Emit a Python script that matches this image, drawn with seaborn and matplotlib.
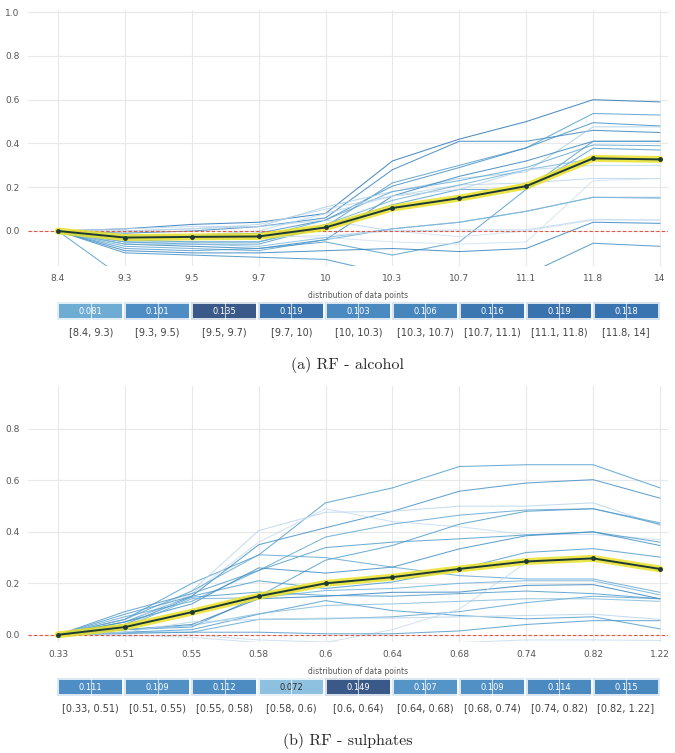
import numpy as np
import pandas as pd
import matplotlib
matplotlib.use("Agg")
import matplotlib.pyplot as plt
import seaborn as sns

# ---------- data: (a) RF - alcohol ----------
alcohol_ticks = ["8.4", "9.3", "9.5", "9.7", "10", "10.3", "10.7", "11.1", "11.8", "14"]
alcohol_bins = ["[8.4, 9.3)", "[9.3, 9.5)", "[9.5, 9.7)", "[9.7, 10)", "[10, 10.3)",
                "[10.3, 10.7)", "[10.7, 11.1)", "[11.1, 11.8)", "[11.8, 14]"]
alcohol_dist = [0.081, 0.101, 0.135, 0.119, 0.103, 0.106, 0.116, 0.119, 0.118]
alcohol_pdp = [0.0, -0.03, -0.027, -0.025, 0.016, 0.105, 0.15, 0.205, 0.332, 0.327]
alcohol_ice = [
    [0, 0.01, 0.03, 0.04, 0.08, 0.32, 0.42, 0.50, 0.60, 0.59],
    [0, -0.01, 0.0, 0.02, 0.06, 0.28, 0.41, 0.41, 0.46, 0.45],
    [0, -0.05, -0.06, -0.06, 0.02, 0.22, 0.30, 0.38, 0.537, 0.53],
    [0, -0.02, -0.02, -0.01, 0.05, 0.205, 0.29, 0.38, 0.495, 0.48],
    [0, 0.0, 0.01, 0.02, 0.11, 0.18, 0.24, 0.27, 0.476, 0.476],
    [0, -0.06, -0.07, -0.08, -0.04, 0.16, 0.25, 0.32, 0.41, 0.41],
    [0, -0.03, -0.03, -0.03, 0.05, 0.18, 0.23, 0.29, 0.393, 0.39],
    [0, -0.04, -0.05, -0.05, 0.02, 0.12, 0.19, 0.19, 0.378, 0.37],
    [0, -0.02, -0.02, 0.0, 0.08, 0.16, 0.21, 0.22, 0.24, 0.24],
    [0, -0.07, -0.08, -0.09, -0.04, 0.01, 0.04, 0.09, 0.154, 0.15],
    [0, -0.08, -0.09, -0.08, -0.05, -0.11, -0.05, 0.19, 0.41, 0.41],
    [0, -0.03, -0.03, -0.02, -0.03, -0.05, -0.06, -0.05, 0.23, 0.24],
    [0, 0.01, 0.02, 0.02, 0.05, 0.0, 0.005, 0.005, 0.053, 0.05],
    [0, -0.09, -0.1, -0.1, -0.09, -0.08, -0.094, -0.08, 0.04, 0.035],
    [0, -0.06, -0.06, -0.07, -0.03, 0.01, 0.04, 0.09, 0.154, 0.154],
    [0, -0.22, -0.25, -0.25, -0.25, -0.3, -0.3, -0.3, -0.3, -0.3],
    [0, -0.1, -0.11, -0.12, -0.13, -0.2, -0.22, -0.2, -0.056, -0.07],
    [0, -0.05, -0.05, -0.05, 0.03, 0.14, 0.21, 0.28, 0.33, 0.33],
    [0, 0.0, 0.01, 0.03, 0.1, 0.16, 0.19, 0.28, 0.3, 0.3],
    [0, -0.03, -0.04, -0.03, -0.02, 0.0, -0.026, 0.0, 0.05, 0.05],
]
alcohol_shade = [0.75, 0.7, 0.6, 0.65, 0.35, 0.7, 0.55, 0.6, 0.3, 0.55,
                 0.6, 0.2, 0.3, 0.7, 0.45, 0.6, 0.65, 0.5, 0.3, 0.2]

# ---------- data: (b) RF - sulphates ----------
sulph_ticks = ["0.33", "0.51", "0.55", "0.58", "0.6", "0.64", "0.68", "0.74", "0.82", "1.22"]
sulph_bins = ["[0.33, 0.51)", "[0.51, 0.55)", "[0.55, 0.58)", "[0.58, 0.6)", "[0.6, 0.64)",
              "[0.64, 0.68)", "[0.68, 0.74)", "[0.74, 0.82)", "[0.82, 1.22]"]
sulph_dist = [0.111, 0.109, 0.112, 0.072, 0.149, 0.107, 0.109, 0.114, 0.115]
sulph_pdp = [0.0, 0.03, 0.088, 0.15, 0.2, 0.224, 0.256, 0.285, 0.297, 0.256]
sulph_ice = [
    [0, 0.06, 0.2, 0.31, 0.513, 0.571, 0.654, 0.661, 0.661, 0.571],
    [0, 0.05, 0.15, 0.35, 0.416, 0.48, 0.558, 0.59, 0.603, 0.531],
    [0, 0.04, 0.17, 0.405, 0.476, 0.48, 0.5, 0.5, 0.513, 0.425],
    [0, 0.03, 0.16, 0.36, 0.49, 0.44, 0.42, 0.39, 0.39, 0.37],
    [0, 0.07, 0.13, 0.25, 0.38, 0.43, 0.465, 0.485, 0.49, 0.435],
    [0, 0.09, 0.16, 0.25, 0.339, 0.36, 0.373, 0.388, 0.40, 0.36],
    [0, 0.02, 0.03, 0.15, 0.29, 0.347, 0.43, 0.48, 0.49, 0.43],
    [0, 0.06, 0.17, 0.311, 0.30, 0.263, 0.23, 0.217, 0.217, 0.165],
    [0, 0.05, 0.12, 0.26, 0.24, 0.263, 0.334, 0.385, 0.40, 0.347],
    [0, 0.08, 0.15, 0.21, 0.18, 0.205, 0.256, 0.32, 0.335, 0.302],
    [0, 0.02, 0.04, 0.14, 0.15, 0.165, 0.166, 0.192, 0.195, 0.14],
    [0, 0.01, 0.02, 0.08, 0.133, 0.094, 0.075, 0.062, 0.07, 0.023],
    [0, 0.01, 0.01, 0.06, 0.062, 0.07, 0.09, 0.125, 0.15, 0.14],
    [0, 0.0, -0.01, -0.03, -0.03, 0.02, 0.1, 0.28, 0.29, 0.26],
    [0, 0.005, 0.01, 0.01, 0.004, 0.004, 0.015, 0.04, 0.055, 0.055],
    [0, 0.03, 0.14, 0.144, 0.172, 0.18, 0.2, 0.21, 0.21, 0.155],
    [0, 0.04, 0.146, 0.166, 0.153, 0.15, 0.16, 0.17, 0.16, 0.14],
    [0, -0.005, 0.0, -0.02, -0.028, -0.035, -0.03, -0.02, -0.02, -0.022],
    [0, 0.02, 0.036, 0.082, 0.114, 0.12, 0.13, 0.14, 0.14, 0.13],
    [0, 0.01, 0.05, 0.06, 0.065, 0.065, 0.07, 0.075, 0.08, 0.06],
]
sulph_shade = [0.6, 0.65, 0.3, 0.25, 0.55, 0.6, 0.6, 0.55, 0.65, 0.6,
               0.7, 0.6, 0.55, 0.25, 0.6, 0.5, 0.6, 0.25, 0.45, 0.3]

W, H = 675, 753
sns.set_style("whitegrid")
fig = plt.figure(figsize=(W / 100, H / 100), dpi=100)
blues = plt.get_cmap("Blues")


def box(left, top, right, bottom):
    return [left / W, 1 - bottom / H, (right - left) / W, (bottom - top) / H]


def draw_panel(top, ticks, pdp, ice, shade, bins, dist, ylim, yticks, caption):
    bottom = top + 256
    ax = fig.add_axes(box(28, top, 668, bottom))
    n = len(ticks)
    pos = np.arange(n)

    df = pd.DataFrame([(k, j, v) for k, row in enumerate(ice) for j, v in enumerate(row)],
                      columns=["line", "pos", "value"])
    colors = [blues(s) for s in shade]
    sns.lineplot(data=df, x="pos", y="value", hue="line", palette=colors, legend=False,
                 linewidth=0.75, alpha=0.8, errorbar=None, ax=ax)
    ax.axhline(0, color="#E5533F", ls=(0, (3, 2)), lw=0.8, zorder=3)
    sns.lineplot(x=pos, y=pdp, color="#E8E12A", linewidth=5, alpha=0.85, ax=ax, zorder=4)
    sns.lineplot(x=pos, y=pdp, color="#1E3A35", linewidth=1.4, marker="o", markersize=3.5,
                 markeredgewidth=0, ax=ax, zorder=5)

    ax.set_xlim(-0.4485, 9.12)
    ax.set_ylim(*ylim)
    ax.set_xticks(pos)
    ax.set_xticklabels(ticks)
    ax.set_yticks(yticks)
    ax.set_yticklabels([f"{t:.1f}" for t in yticks])
    ax.set_xlabel("")
    ax.set_ylabel("")
    ax.grid(color="#e8e8e8", lw=0.8)
    for s in ax.spines.values():
        s.set_visible(False)
    ax.tick_params(axis="both", length=4, width=0.6, color="#bbbbbb", labelsize=6.5,
                   labelcolor="#555555", pad=2)

    # distribution of data points
    dax = fig.add_axes(box(57.3, bottom + 36, 659.5, bottom + 54))
    vmax = max(dist)
    sns.heatmap(np.array([dist]), ax=dax, cmap="Blues", vmin=0, vmax=vmax, alpha=0.8,
                annot=True, fmt=".3f", annot_kws={"fontsize": 6}, linewidths=1.5,
                linecolor="white", cbar=False, xticklabels=bins, yticklabels=False)
    for txt, v in zip(dax.texts, dist):
        txt.set_color("#2b2b2b" if v / vmax < 0.5 else "white")
    for i in range(len(dist)):
        dax.axvline(i + 0.5, color="white", lw=0.8, alpha=0.7, zorder=3)
    dax.tick_params(axis="x", length=0, labelsize=7, labelcolor="#424242", pad=5, rotation=0)
    dax.tick_params(axis="y", length=0)
    dax.set_title("distribution of data points", fontsize=5.5, color="#555555", pad=3)

    fig.text(0.515, 1 - (bottom + 99) / H, caption, ha="center", va="center",
             fontsize=11.5, family="cmr10")


draw_panel(10, alcohol_ticks, alcohol_pdp, alcohol_ice, alcohol_shade, alcohol_bins,
           alcohol_dist, (-0.16, 1.01), [0.0, 0.2, 0.4, 0.6, 0.8, 1.0], "(a) RF - alcohol")
draw_panel(386, sulph_ticks, sulph_pdp, sulph_ice, sulph_shade, sulph_bins,
           sulph_dist, (-0.028, 0.967), [0.0, 0.2, 0.4, 0.6, 0.8], "(b) RF - sulphates")

fig.savefig("out.png", dpi=100)
